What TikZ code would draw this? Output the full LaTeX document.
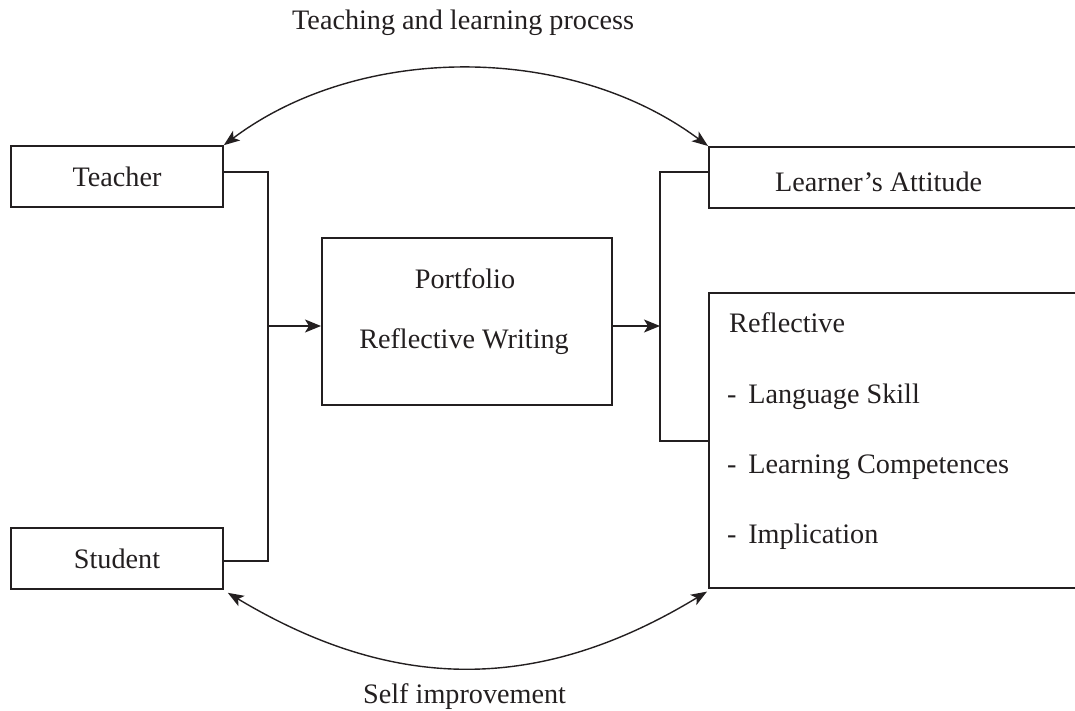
\documentclass[tikz,border=0pt]{standalone}
\usepackage{fontspec}
\setmainfont{Liberation Serif}
\usetikzlibrary{arrows.meta}
\definecolor{ink}{HTML}{231F20}
\tikzset{
  box/.style={draw=ink, line width=1.6pt, rectangle, inner sep=0pt, text=ink},
  line/.style={draw=ink, line width=1.6pt},
  arr/.style={line, -{Stealth[length=16pt,width=13pt,inset=4pt]}},
  curve/.style={draw=ink, line width=1.4pt, {Stealth[length=16pt,width=12pt,inset=4pt]}-{Stealth[length=16pt,width=12pt,inset=4pt]}},
  lbl/.style={text=ink, inner sep=0pt, font=\fontsize{28.2}{30}\selectfont},
}
\begin{document}
\begin{tikzpicture}[x=1pt,y=-1pt]
\useasboundingbox (0,0) rectangle (1075,711);
\clip (0,0) rectangle (1075,711);
% boxes
\node[box, lbl, minimum width=212pt, minimum height=61pt] (teacher) at (117,176.5) {Teacher};
\node[box, lbl, minimum width=212pt, minimum height=61pt] (student) at (117,558.5) {Student};
\node[box, minimum width=290pt, minimum height=167pt, anchor=north west] (port) at (321,237) {};
\node[box, minimum width=380pt, minimum height=61pt, anchor=north west] (la) at (708,146) {};
\node[box, minimum width=380pt, minimum height=295pt, anchor=north west] (refl) at (708,292) {};
% texts
\node[lbl, anchor=base] (tp) at (465,288) {Portfolio};
\node[lbl, anchor=base] (trw) at (464,348) {Reflective Writing};
\node[lbl, anchor=base west] (tla) at (775,192) {Learner’s Attitude};
\node[lbl, anchor=base west] (tr1) at (729,332) {Reflective};
\node[lbl, anchor=base west] (tr2) at (727,403) {-\, Language Skill};
\node[lbl, anchor=base west] (tr3) at (727,473) {-\, Learning Competences};
\node[lbl, anchor=base west] (tr4) at (727,543) {-\, Implication};
\node[lbl, anchor=base west] (ttl) at (292,30) {Teaching and learning process};
\node[lbl, anchor=base west] (tsi) at (363,703) {Self improvement};
% left connectors
\coordinate (jl1) at (268,172);
\coordinate (jl2) at (268,561);
\coordinate (jlm) at (268,326);
\draw[line] ([yshift=4.5pt]teacher.east) -- (jl1) -- (jl2) -- ([yshift=-2.5pt]student.east);
\draw[arr] (jlm) -- (port.west |- jlm);
% right connectors
\coordinate (jr1) at (660,172);
\coordinate (jr2) at (660,441);
\coordinate (jrm) at (660,326);
\draw[line] (la.west |- jr1) -- (jr1) -- (jr2) -- (refl.west |- jr2);
\draw[arr] (port.east |- jrm) -- (jrm);
% curves
\draw[curve] (teacher.north east) .. controls (360,43) and (570,43) .. (la.north west);
\draw[curve] ([shift={(4pt,-3pt)}]student.south east) .. controls (395,693) and (540,693) .. ([shift={(-1pt,-3pt)}]refl.south west);
\end{tikzpicture}
\end{document}
